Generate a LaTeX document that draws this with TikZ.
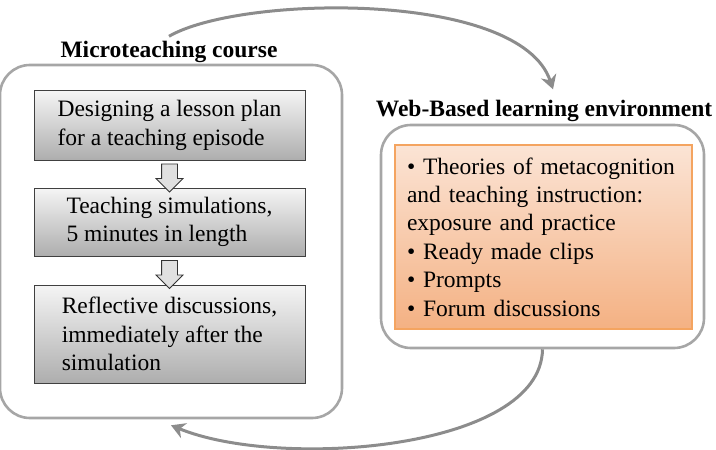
\documentclass[tikz,border=0pt]{standalone}
\usepackage{fontspec}
\setmainfont{Liberation Serif}
\usetikzlibrary{arrows.meta,shapes.arrows,calc}
\definecolor{frameGray}{HTML}{A6A6A6}
\definecolor{flowGray}{HTML}{8C8C8C}
\definecolor{peachTop}{HTML}{FBE4D5}
\definecolor{peachBot}{HTML}{F4B183}
\definecolor{peachLine}{HTML}{F4A460}
\newcommand{\bodyfont}{\fontsize{11.75pt}{14.2pt}\selectfont}
\tikzset{
  outerbox/.style={draw=frameGray, line width=1.3pt, rounded corners=15pt, inner sep=0pt},
  stepbox/.style={draw=black!75, line width=0.5pt, top color=black!4, bottom color=black!32,
    minimum width=135.5pt, align=left, font=\bodyfont},
  listbox/.style={draw=peachLine, line width=0.7pt, top color=peachTop, bottom color=peachBot,
    text width=136.5pt, inner xsep=6pt, minimum height=92pt, align=left, font=\bodyfont},
  titletext/.style={font=\bodyfont\bfseries, inner sep=1pt, anchor=base},
  downarrow/.style={single arrow, draw=black!80, line width=0.4pt, fill=black!12, rotate=-90,
    minimum height=14pt, inner xsep=0pt, inner ysep=3.75pt, single arrow head extend=2.75pt},
  flow/.style={draw=flowGray, line width=1.5pt, -{Stealth[length=7pt,width=8pt]}}
}
\begin{document}
\begin{tikzpicture}[x=0.5pt,y=-0.5pt]
  \useasboundingbox (0,0) rectangle (716,449);

  % left: course box with three steps
  \node[outerbox, minimum width=171pt, minimum height=176.5pt] (microbox) at (171,241.5) {};
  \node[titletext] (microtitle) at (169,58) {Microteaching course};

  \node[stepbox, minimum height=34.5pt] (plan) at (169.5,125.5)
    {Designing a lesson plan\\for a teaching episode};
  \node[stepbox, minimum height=34pt] (simul) at (169.5,222)
    {Teaching simulations,\\5 minutes in length};
  \node[stepbox, minimum height=49pt] (reflect) at (169.5,334)
    {Reflective discussions,\\immediately after the\\simulation};

  \node[downarrow] (arrA) at ($(plan.south)!0.5!(simul.north)$) {};
  \node[downarrow] (arrB) at ($(simul.south)!0.5!(reflect.north)$) {};

  % right: web environment
  \node[outerbox, minimum width=161.5pt, minimum height=111.5pt] (webbox) at (542.5,236.5) {};
  \node[titletext] (webtitle) at (544,117) {Web-Based learning environment};
  \node[listbox] (webitems) at (543.5,237)
    {\textbullet{} Theories of metacognition\\and teaching instruction:\\exposure and practice\\
     \textbullet{} Ready made clips\\\textbullet{} Prompts\\\textbullet{} Forum discussions};

  % the two cycle arrows
  \draw[flow] ([yshift=1.5pt]microtitle.north) .. controls (240,-5) and (520,-10)
    .. ([xshift=4.5pt,yshift=4.5pt]webtitle.north);
  \draw[flow] (webbox.south) .. controls (541,450) and (280,470)
    .. ([yshift=-3pt]microbox.south);
\end{tikzpicture}
\end{document}
